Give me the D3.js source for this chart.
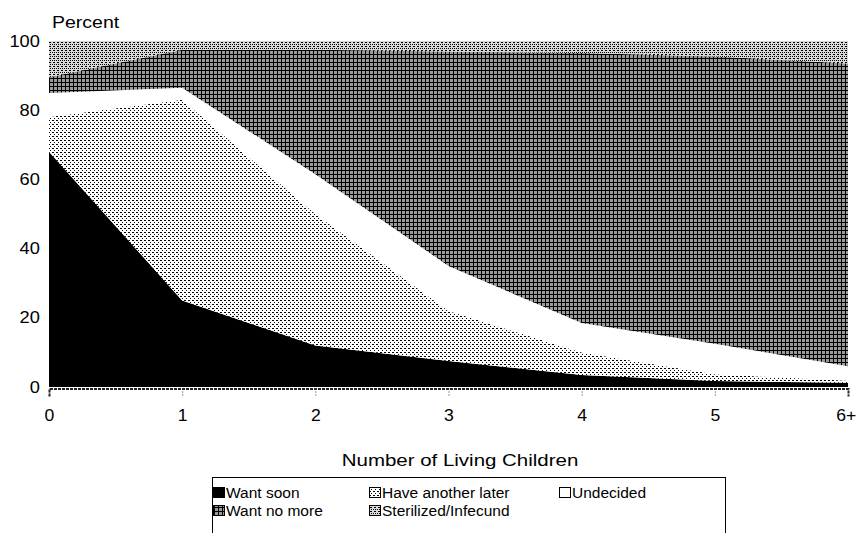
<!DOCTYPE html>
<html>
<head>
<meta charset="utf-8">
<script src="https://cdn.jsdelivr.net/npm/d3@7"></script>
<style>
  body { margin: 0; background: #fff; }
  svg { display: block; font-family: "Liberation Sans", Arial, sans-serif; }
</style>
</head>
<body>
<div id="chart"></div>
<script>
// Fertility preference by number of living children (stacked percent area)

const categories = ["0", "1", "2", "3", "4", "5", "6+"];
const wantSoon   = [68, 25, 12, 7.5, 3.5, 1.7, 1.2];
const haveLater  = [10, 58, 38, 14.5, 6.5, 2, 0.6];
const undecided  = [7, 3.5, 11.5, 13, 8.5, 8.8, 4.2];
const wantNoMore = [4.5, 11, 36, 62, 78, 83, 87.5];
const sterilized = [10.5, 2.5, 2.5, 3, 3.5, 4.5, 6.5];
const seriesNames = ["Want soon", "Have another later", "Undecided", "Want no more", "Sterilized/Infecund"];
const yTicks = [0, 20, 40, 60, 80, 100];

const width = 856, height = 533;

// build the table for d3.stack
const seriesValues = [wantSoon, haveLater, undecided, wantNoMore, sterilized];
const table = categories.map((c, i) => {
  const row = { cat: c };
  seriesNames.forEach((name, k) => { row[name] = seriesValues[k][i]; });
  return row;
});

const svg = d3.select("#chart").append("svg")
  .attr("width", width)
  .attr("height", height);

// dithered-looking fills, like the scanned original
const defs = svg.append("defs");

function makePattern(id, bg, dots) {
  const p = defs.append("pattern")
    .attr("id", id)
    .attr("patternUnits", "userSpaceOnUse")
    .attr("width", 4)
    .attr("height", 4);
  p.append("rect").attr("width", 4).attr("height", 4).attr("fill", bg);
  dots.forEach(d => {
    p.append("rect")
      .attr("x", d[0]).attr("y", d[1])
      .attr("width", d[2]).attr("height", d[3])
      .attr("fill", "#000");
  });
}

makePattern("p-later", "#fff", [[0, 0, 2, 1], [2, 2, 1, 1]]);
makePattern("p-nomore", "#9a9a9a", [[1, 0, 1, 4], [0, 2, 4, 1]]);
makePattern("p-steril", "#d8d8d8", [[0, 0, 1, 1], [2, 0, 1, 1], [1, 2, 2, 1]]);

const fills = {
  "Want soon": "#000",
  "Have another later": "url(#p-later)",
  "Undecided": "#fff",
  "Want no more": "url(#p-nomore)",
  "Sterilized/Infecund": "url(#p-steril)"
};

// scales
const x = d3.scalePoint().domain(categories).range([49, 848]);
const y = d3.scaleLinear().domain([0, 100]).range([387, 41]);

const stacked = d3.stack().keys(seriesNames)(table);

const area = d3.area()
  .x(d => x(d.data.cat))
  .y0(d => y(d[0]))
  .y1(d => y(d[1]));

svg.append("g")
  .selectAll("path")
  .data(stacked)
  .join("path")
  .attr("d", area)
  .attr("fill", d => fills[d.key])
  .attr("stroke", "none");

// x axis
const xAxis = svg.append("g")
  .attr("transform", "translate(0,388.5)")
  .call(d3.axisBottom(x).tickSize(8).tickPadding(13));

xAxis.select(".domain")
  .attr("stroke", "#222")
  .attr("stroke-width", 2)
  .attr("stroke-dasharray", "3,1");
xAxis.selectAll(".tick line")
  .attr("stroke", "#333")
  .attr("stroke-dasharray", "1,2");
xAxis.selectAll(".tick text")
  .attr("font-size", 16)
  .attr("font-family", "Liberation Sans, Arial, sans-serif")
  .attr("fill", "#000")
  .attr("transform", "scale(1.1,1)");
// keep the last label inside the picture
xAxis.selectAll(".tick text")
  .filter(d => d === categories[categories.length - 1])
  .attr("text-anchor", "end")
  .attr("x", 7);

// y axis (labels only)
const yAxis = svg.append("g")
  .attr("transform", "translate(49,0)")
  .call(d3.axisLeft(y).tickValues(yTicks).tickSize(0).tickPadding(8));

yAxis.select(".domain").remove();
yAxis.selectAll(".tick text")
  .attr("font-size", 16)
  .attr("font-family", "Liberation Sans, Arial, sans-serif")
  .attr("fill", "#000")
  .attr("transform", "scale(1.14,1)");

// axis titles
svg.append("text")
  .attr("transform", "translate(52,28) scale(1.22,1)")
  .attr("font-size", 16)
  .text("Percent");

svg.append("text")
  .attr("transform", "translate(460,466) scale(1.28,1)")
  .attr("text-anchor", "middle")
  .attr("font-size", 16)
  .text("Number of Living Children");

// legend
const legend = svg.append("g").attr("class", "legend");

legend.append("rect")
  .attr("x", 212.5)
  .attr("y", 477.5)
  .attr("width", 513)
  .attr("height", 80)
  .attr("fill", "#fff")
  .attr("stroke", "#000");

const legendPos = [
  [213, 487], [369, 487], [559, 487],
  [213, 505], [369, 505]
];

seriesNames.forEach((name, i) => {
  const g = legend.append("g")
    .attr("transform", `translate(${legendPos[i][0]},${legendPos[i][1]})`);
  g.append("rect")
    .attr("x", 0.5)
    .attr("y", 0.5)
    .attr("width", 11)
    .attr("height", 10)
    .attr("fill", fills[name])
    .attr("stroke", "#000");
  g.append("text")
    .attr("x", 13)
    .attr("y", 11)
    .attr("font-size", 15.5)
    .text(name);
});
</script>
</body>
</html>
